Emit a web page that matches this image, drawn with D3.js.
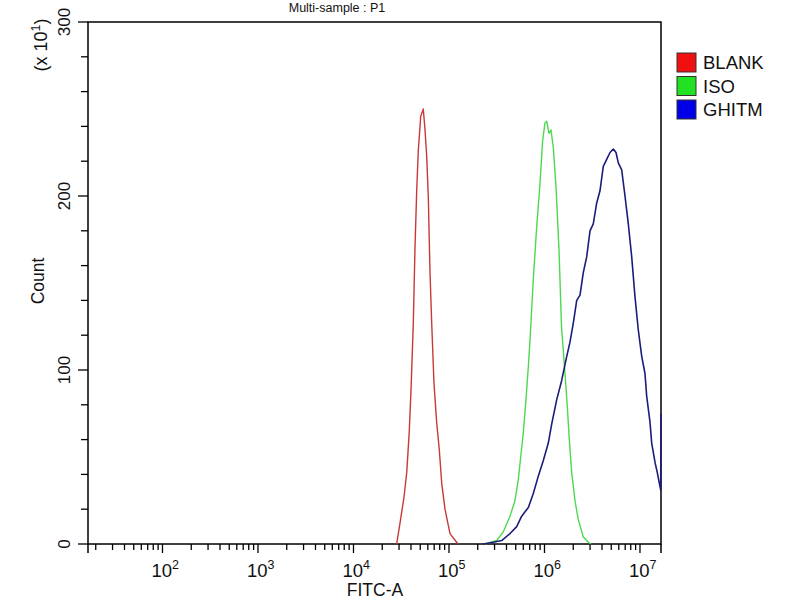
<!DOCTYPE html>
<html>
<head>
<meta charset="utf-8">
<script src="https://cdn.jsdelivr.net/npm/d3@7"></script>
<style>
  body { margin: 0; background: #fff; }
  text { font-family: "Liberation Sans", Arial, sans-serif; fill: #111; }
</style>
</head>
<body>
<svg id="chart" width="800" height="600"></svg>
<script>
// histogram values (FITC-A, count in units of 10^1)
const blankFitc = [28300, 30700, 33800, 36100, 38400, 40000, 42300, 44000, 45900, 47700, 50600, 53100, 53800,
  56100, 58400, 60700, 63200, 65900, 69700, 74300, 79200, 83900, 90800, 102500, 124200];
const blankCount = [0, 12, 27, 41, 65, 88, 127, 169, 203, 226, 246, 249, 250,
  238, 223, 200, 157, 127, 92, 70, 54, 35, 20, 6, 0];

const isoFitc = [238300, 316000, 370500, 435500, 491000, 532000, 563600, 600000, 640000, 677500, 705000,
  763500, 828000, 897000, 957000, 1012000, 1054000, 1115000, 1170000, 1237000, 1321000, 1419000,
  1507000, 1640000, 1733000, 1819000, 1928000, 2085000, 2259000, 2548000, 2877000, 3069000];
const isoCount = [0, 2, 7, 16, 25, 37, 50, 64, 83, 102, 117,
  152, 182, 207, 232, 242, 243, 236, 238, 228, 205, 169,
  125, 98, 79, 60, 41, 25, 14, 4, 1, 0];

const ghitmFitc = [228600, 291100, 356500, 435500, 511700, 577000, 677500, 763500, 861000, 972000,
  1096000, 1191000, 1343000, 1514000, 1680000, 1849000, 2003000, 2175000, 2355000, 2548000,
  2766000, 2997000, 3243000, 3521000, 3812000, 4127000, 4480000, 4853000, 5256000, 5610000,
  5929000, 6431000, 6966000, 7545000, 8190000, 8866000, 9601000, 10420000, 11280000, 11750000,
  12730000, 13260000, 14360000, 15180000, 15930000, 16480000, 16600000];
const ghitmCount = [0, 1, 2, 6, 10, 16, 21, 29, 39, 48,
  58, 69, 83, 94, 106, 116, 127, 140, 143, 156,
  165, 180, 184, 196, 203, 217, 221, 225, 227, 225,
  219, 215, 200, 184, 165, 142, 123, 108, 98, 85,
  70, 58, 47, 41, 35, 31, 75];

const seriesNames = ["BLANK", "ISO", "GHITM"];
const lineColors = ["#c93838", "#4fd84f", "#1c1c7a"];
const swatchColors = ["#f01010", "#22e022", "#0000e8"];

const xDecades = [2, 3, 4, 5, 6, 7];
const yMajor = [0, 100, 200, 300];

const svg = d3.select("#chart");
const margin = {top: 22, right: 139, bottom: 56, left: 88};
const W = 800, H = 600;

const x = d3.scaleLog()
  .domain([Math.pow(10, 1.22), Math.pow(10, 7.22)])
  .range([margin.left, W - margin.right]);
const y = d3.scaleLinear()
  .domain([0, 300])
  .range([H - margin.bottom, margin.top]);

const x0 = x.range()[0], x1 = x.range()[1];
const y0 = y.range()[0], y1 = y.range()[1];

// frame
svg.append("rect")
  .attr("x", x0).attr("y", y1)
  .attr("width", x1 - x0).attr("height", y0 - y1)
  .attr("fill", "none").attr("stroke", "#000").attr("stroke-width", 1.5);

// x minor/major ticks
let xTicks = [];
for (let e = 1; e <= 7; e++) {
  for (let m = 1; m <= 9; m++) {
    let v = m * Math.pow(10, e);
    if (v >= x.domain()[0] && v <= x.domain()[1]) xTicks.push({v: v, major: m === 1});
  }
}
svg.append("g").selectAll("line")
  .data(xTicks)
  .join("line")
  .attr("x1", d => x(d.v)).attr("x2", d => x(d.v))
  .attr("y1", y0).attr("y2", d => y0 + (d.major ? 9 : 6))
  .attr("stroke", "#000").attr("stroke-width", 1.3);

// left/right axis lines run down a little past the baseline
svg.append("line").attr("x1", x0).attr("x2", x0).attr("y1", y0).attr("y2", y0 + 9)
  .attr("stroke", "#000").attr("stroke-width", 1.5);
svg.append("line").attr("x1", x1).attr("x2", x1).attr("y1", y0).attr("y2", y0 + 9)
  .attr("stroke", "#000").attr("stroke-width", 1.5);

// x decade labels 10^n
let xl = svg.append("g").selectAll("text")
  .data(xDecades)
  .join("text")
  .attr("x", d => x(Math.pow(10, d)) - 11)
  .attr("y", y0 + 33)
  .style("font-size", "18.5px");
xl.append("tspan").text("10");
xl.append("tspan").attr("dy", -8).style("font-size", "12.5px").text(d => d);

// y ticks every 20, longer at the labelled ones
const yTicks = d3.range(0, 301, 20);
svg.append("g").selectAll("line")
  .data(yTicks)
  .join("line")
  .attr("x1", d => x0 - (d % 100 === 0 ? 10 : 7)).attr("x2", x0)
  .attr("y1", d => y(d)).attr("y2", d => y(d))
  .attr("stroke", "#000").attr("stroke-width", 1.3);

svg.append("g").selectAll("text")
  .data(yMajor)
  .join("text")
  .attr("transform", d => `translate(${x0 - 18},${y(d)}) rotate(-90)`)
  .attr("text-anchor", "middle")
  .style("font-size", "17px")
  .text(d => d);

// multiplier label
let mult = svg.append("text")
  .attr("transform", `translate(47,45) rotate(-90)`)
  .attr("text-anchor", "middle")
  .style("font-size", "18px");
mult.append("tspan").text("(x 10");
mult.append("tspan").attr("dy", -7).style("font-size", "12.5px").text("1");
mult.append("tspan").attr("dy", 7).text(")");

// axis titles
svg.append("text")
  .attr("transform", "translate(44,281) rotate(-90)")
  .attr("text-anchor", "middle")
  .style("font-size", "17.5px")
  .text("Count");

svg.append("text")
  .attr("x", 375).attr("y", 596)
  .attr("text-anchor", "middle")
  .style("font-size", "17.5px")
  .text("FITC-A");

svg.append("text")
  .attr("x", 337).attr("y", 12)
  .attr("text-anchor", "middle")
  .style("font-size", "12.5px")
  .text("Multi-sample : P1");

// histogram traces
const line = d3.line()
  .x(d => x(d[0]))
  .y(d => y(d[1]));

const traces = [
  d3.zip(blankFitc, blankCount),
  d3.zip(isoFitc, isoCount),
  d3.zip(ghitmFitc, ghitmCount)
];

traces.forEach((pts, i) => {
  svg.append("path")
    .datum(pts)
    .attr("d", line)
    .attr("fill", "none")
    .attr("stroke", lineColors[i])
    .attr("stroke-width", i === 2 ? 1.6 : 1.4)
    .attr("stroke-linejoin", "round");
});

// legend
const lg = svg.append("g").selectAll("g")
  .data(seriesNames)
  .join("g")
  .attr("transform", (d, i) => `translate(677,${53 + i * 23.5})`);

lg.append("rect")
  .attr("width", 19).attr("height", 19)
  .attr("fill", (d, i) => swatchColors[i])
  .attr("stroke", "#333").attr("stroke-width", 1);

lg.append("text")
  .attr("x", 26).attr("y", 16)
  .style("font-size", "18.5px")
  .text(d => d);
</script>
</body>
</html>
